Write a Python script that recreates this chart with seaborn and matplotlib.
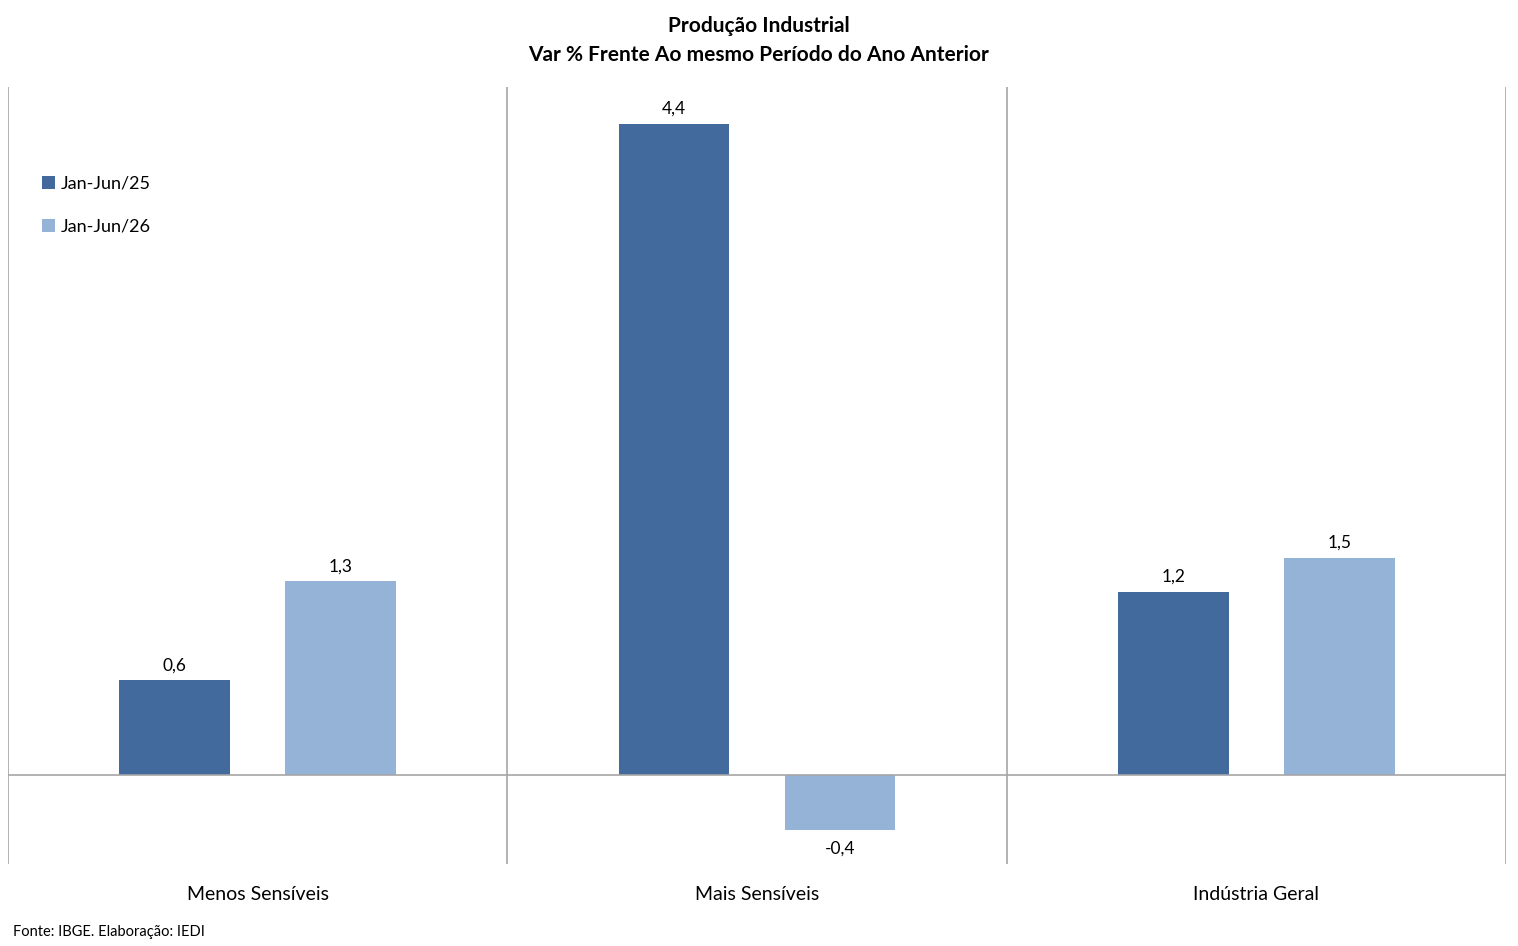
import seaborn as sns
import matplotlib.pyplot as plt
import pandas as pd

# datos
categorias = ['Menos Sensíveis', 'Mais Sensíveis', 'Indústria Geral']
serie_25 = [0.64, 4.4, 1.24]
serie_26 = [1.31, -0.37, 1.47]
periodos = ['Jan-Jun/25', 'Jan-Jun/26']
colores = ['#426A9C', '#95B3D7']

datos = pd.DataFrame({
    'categoria': categorias * 2,
    'periodo': [periodos[0]] * 3 + [periodos[1]] * 3,
    'valor': serie_25 + serie_26,
})

sns.set_style('white')
plt.rcParams['font.family'] = ['Lato', 'DejaVu Sans']
plt.rcParams['text.color'] = 'black'
plt.rcParams['xtick.color'] = 'black'

fig = plt.figure(figsize=(15.18, 9.46), dpi=100)
ax = fig.add_axes([8 / 1518, 1 - 864 / 946, 1498 / 1518, 777 / 946])

sns.barplot(data=datos, x='categoria', y='valor', hue='periodo',
            palette=colores, width=0.665, gap=0.332, ax=ax, saturation=1,
            linewidth=0)

# etiquetas de valores (las negativas un poco más separadas)
for cont in ax.containers:
    for b in cont:
        v = b.get_height()
        txt = f'{v:.1f}'.replace('.', ',')
        if v >= 0:
            ax.annotate(txt, (b.get_x() + b.get_width() / 2, v), xytext=(0, 5),
                        textcoords='offset points', ha='center', va='bottom',
                        fontsize=12.5)
        else:
            ax.annotate(txt, (b.get_x() + b.get_width() / 2, v), xytext=(0, -8),
                        textcoords='offset points', ha='center', va='top',
                        fontsize=12.5)

ax.set_ylim(-0.6, 4.65)
ax.set_xlim(-0.5, 2.5)
ax.axhline(0, color='#A6A6A6', lw=1.2)
for xv in [-0.5, 0.5, 1.5, 2.5]:
    ax.axvline(xv, color='#A6A6A6', lw=1.2)
for s in ax.spines.values():
    s.set_visible(False)

ax.set_yticks([])
ax.set_xlabel('')
ax.set_ylabel('')
ax.tick_params(axis='x', length=0, pad=16, labelsize=14)

ax.legend(loc='upper left', bbox_to_anchor=(0.012, 0.907), frameon=False,
          fontsize=13, handlelength=0.7, handleheight=0.7, handletextpad=0.3,
          labelspacing=1.5)

fig.text(0.5, 1 - 26 / 946, 'Produção Industrial', ha='center', va='center',
         fontsize=15, fontweight='bold')
fig.text(0.5, 1 - 55 / 946, 'Var % Frente Ao mesmo Período do Ano Anterior',
         ha='center', va='center', fontsize=15, fontweight='bold')
fig.text(13 / 1518, 1 - 932 / 946, 'Fonte: IBGE. Elaboração: IEDI',
         ha='left', va='center', fontsize=10.5)

plt.savefig('out.png', dpi=100)
